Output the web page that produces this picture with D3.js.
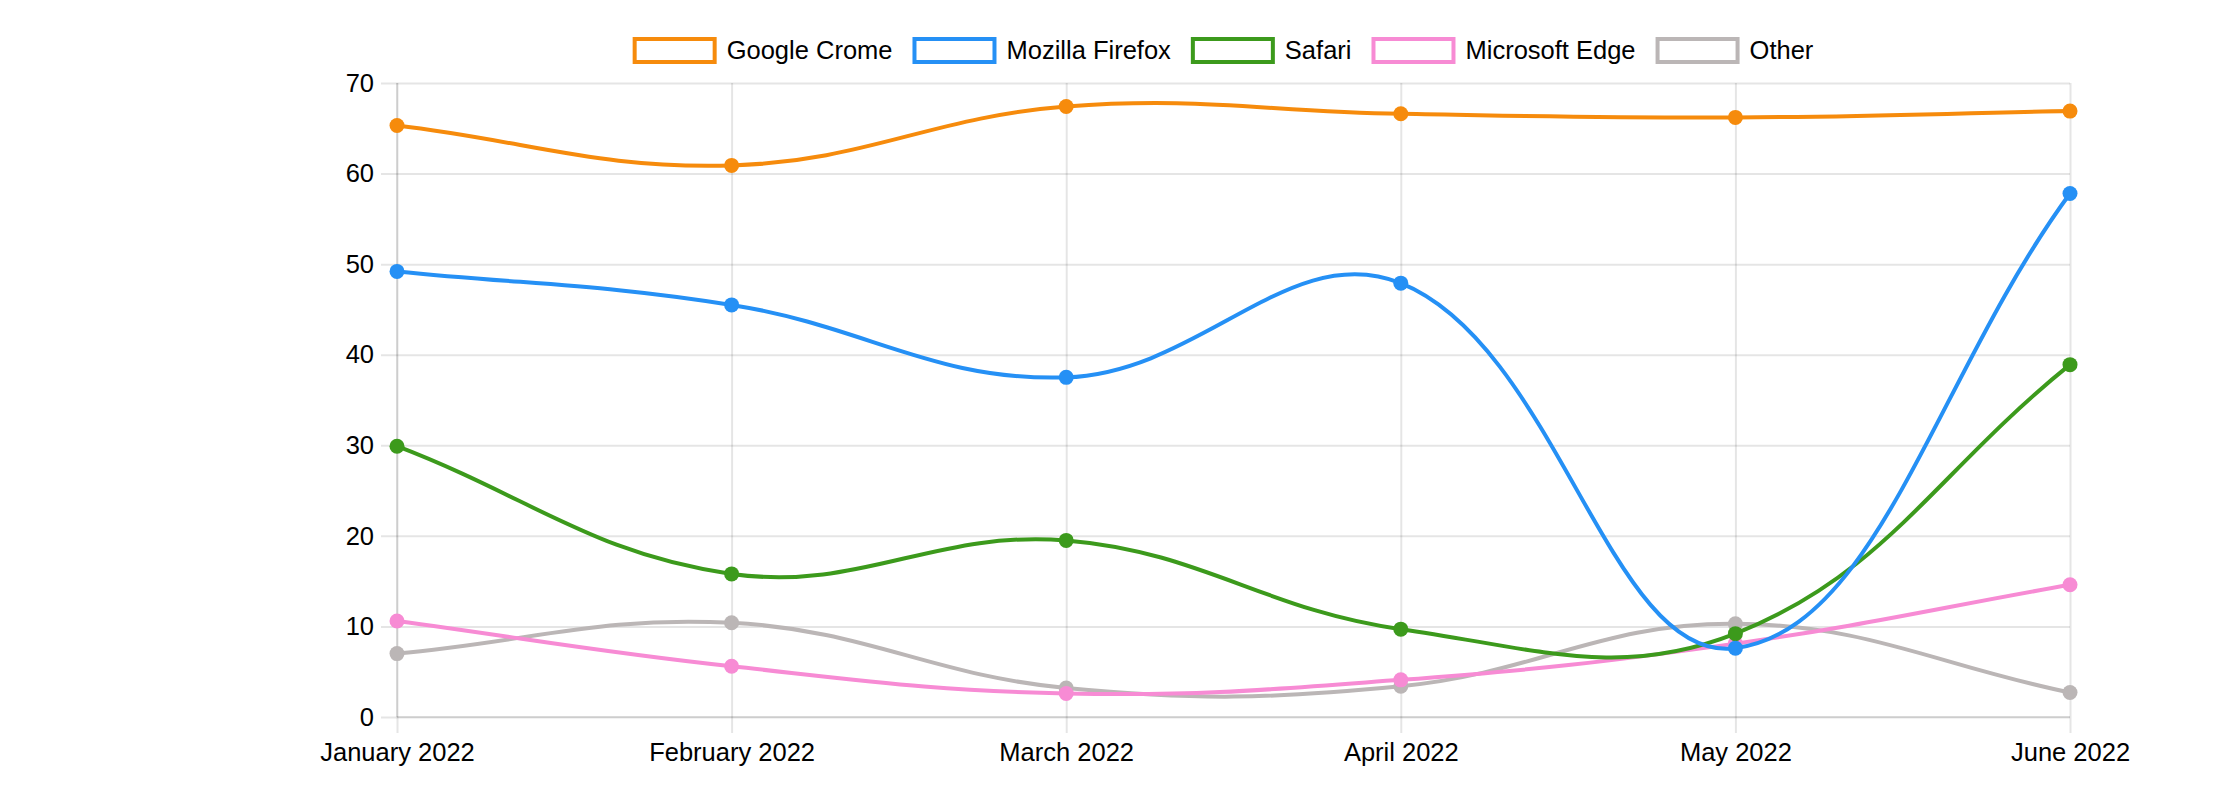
<!DOCTYPE html>
<html>
<head>
<meta charset="utf-8">
<script src="https://cdn.jsdelivr.net/npm/d3@7"></script>
<style>
	body { margin: 0; background: #fff; }
	svg text { font-family: "Liberation Sans", Arial, Helvetica, sans-serif; }
</style>
</head>
<body>
<div class="line-chart"></div>
<script>
const months = ['January 2022', 'February 2022', 'March 2022', 'April 2022', 'May 2022', 'June 2022'];

const chromeValues  = [65.3, 60.9, 67.4, 66.6, 66.2, 66.9];
const firefoxValues = [49.2, 45.5, 37.5, 47.9, 7.6, 57.8];
const safariValues  = [29.9, 15.8, 19.5, 9.7, 9.2, 38.9];
const edgeValues    = [10.6, 5.6, 2.6, 4.1, 8.1, 14.6];
const otherValues   = [7.0, 10.4, 3.2, 3.4, 10.3, 2.7];

const seriesNames  = ['Google Crome', 'Mozilla Firefox', 'Safari', 'Microsoft Edge', 'Other'];
const seriesColors = ['#f68b0c', '#2590f5', '#3c9a1c', '#f78bd4', '#bbb6b6'];

const yTicks = [0, 10, 20, 30, 40, 50, 60, 70];

const series = [chromeValues, firefoxValues, safariValues, edgeValues, otherValues].map((values, i) => ({
	name: seriesNames[i],
	color: seriesColors[i],
	values: values
}));

const width = 2220;
const height = 804;
const plot = ({top: 83, right: 2070, bottom: 717, left: 397});
const gridColor = 'rgba(0,0,0,0.1)';
const fontSize = 25.5;

const svg = d3.select('.line-chart').append('svg')
	.attr('width', width)
	.attr('height', height);

const xScale = d3.scalePoint()
	.domain(months)
	.range([plot.left, plot.right]);

const yScale = d3.scaleLinear()
	.domain([0, 70])
	.range([plot.bottom, plot.top]);

// y grid + labels
const yAxis = d3.axisLeft(yScale)
	.tickValues(yTicks)
	.tickSizeInner(-(plot.right - plot.left))
	.tickSizeOuter(0)
	.tickPadding(23);

const yAxisG = svg.append('g')
	.attr('class', 'axis y-axis')
	.attr('transform', `translate(${plot.left}, 0)`)
	.call(yAxis);

// x grid + labels
const xAxis = d3.axisBottom(xScale)
	.tickSizeInner(-(plot.bottom - plot.top))
	.tickSizeOuter(0)
	.tickPadding(26);

const xAxisG = svg.append('g')
	.attr('class', 'axis x-axis')
	.attr('transform', `translate(0, ${plot.bottom})`)
	.call(xAxis);

svg.selectAll('.axis .domain').remove();
svg.selectAll('.axis')
	.attr('font-size', fontSize)
	.attr('font-family', '"Liberation Sans", Arial, sans-serif')
	.style('color', '#000');
svg.selectAll('.axis line')
	.attr('stroke', gridColor)
	.attr('stroke-width', 2);
yAxisG.selectAll('line').attr('x1', -16);
xAxisG.selectAll('line').attr('y1', 16);

// axis borders
svg.append('line')
	.attr('x1', plot.left).attr('x2', plot.left)
	.attr('y1', plot.top).attr('y2', plot.bottom)
	.attr('stroke', gridColor).attr('stroke-width', 2);
svg.append('line')
	.attr('x1', plot.left).attr('x2', plot.right)
	.attr('y1', plot.bottom).attr('y2', plot.bottom)
	.attr('stroke', gridColor).attr('stroke-width', 2);

// spline like chart.js (tension 0.4, capped to the plot area)
function splinePath(pts, tension) {
	const n = pts.length;
	const capX = v => Math.max(plot.left, Math.min(plot.right, v));
	const capY = v => Math.max(plot.top, Math.min(plot.bottom, v));
	const ctrl = pts.map((p, i) => {
		const prev = pts[Math.max(i - 1, 0)];
		const next = pts[Math.min(i + 1, n - 1)];
		const d01 = Math.hypot(p[0] - prev[0], p[1] - prev[1]);
		const d12 = Math.hypot(next[0] - p[0], next[1] - p[1]);
		let s01 = d01 / (d01 + d12);
		let s12 = d12 / (d01 + d12);
		if (isNaN(s01)) s01 = 0;
		if (isNaN(s12)) s12 = 0;
		const fa = tension * s01;
		const fb = tension * s12;
		return {
			prev: [capX(p[0] - fa * (next[0] - prev[0])), capY(p[1] - fa * (next[1] - prev[1]))],
			next: [capX(p[0] + fb * (next[0] - prev[0])), capY(p[1] + fb * (next[1] - prev[1]))]
		};
	});
	const path = d3.path();
	path.moveTo(pts[0][0], pts[0][1]);
	for (let i = 1; i < n; i++) {
		path.bezierCurveTo(ctrl[i - 1].next[0], ctrl[i - 1].next[1], ctrl[i].prev[0], ctrl[i].prev[1], pts[i][0], pts[i][1]);
	}
	return path.toString();
}

// first dataset ends up on top, as in the original
series.slice().reverse().forEach(s => {
	const pts = s.values.map((v, i) => [xScale(months[i]), yScale(v)]);
	const g = svg.append('g').attr('class', 'series');

	g.append('path')
		.attr('d', splinePath(pts, 0.4))
		.attr('fill', 'none')
		.attr('stroke', s.color)
		.attr('stroke-width', 4);

	g.selectAll('.dot')
		.data(s.values)
		.enter()
		.append('circle')
		.attr('class', 'dot')
		.attr('cx', (d, i) => xScale(months[i]))
		.attr('cy', d => yScale(d))
		.attr('r', 7.5)
		.attr('fill', s.color);
});

// legend
const legend = svg.append('g').attr('class', 'legend');
let lx = 0;
series.forEach(s => {
	const item = legend.append('g').attr('transform', `translate(${lx}, 0)`);
	item.append('rect')
		.attr('x', 2)
		.attr('y', 39)
		.attr('width', 80)
		.attr('height', 23)
		.attr('fill', '#fff')
		.attr('stroke', s.color)
		.attr('stroke-width', 4);
	const t = item.append('text')
		.attr('x', 94)
		.attr('y', 50)
		.attr('dy', '0.35em')
		.attr('font-size', fontSize)
		.attr('fill', '#000')
		.text(s.name);
	lx += 94 + t.node().getComputedTextLength() + 20;
});
lx -= 20;
legend.attr('transform', `translate(${1223 - lx / 2}, 0)`);
</script>
</body>
</html>
